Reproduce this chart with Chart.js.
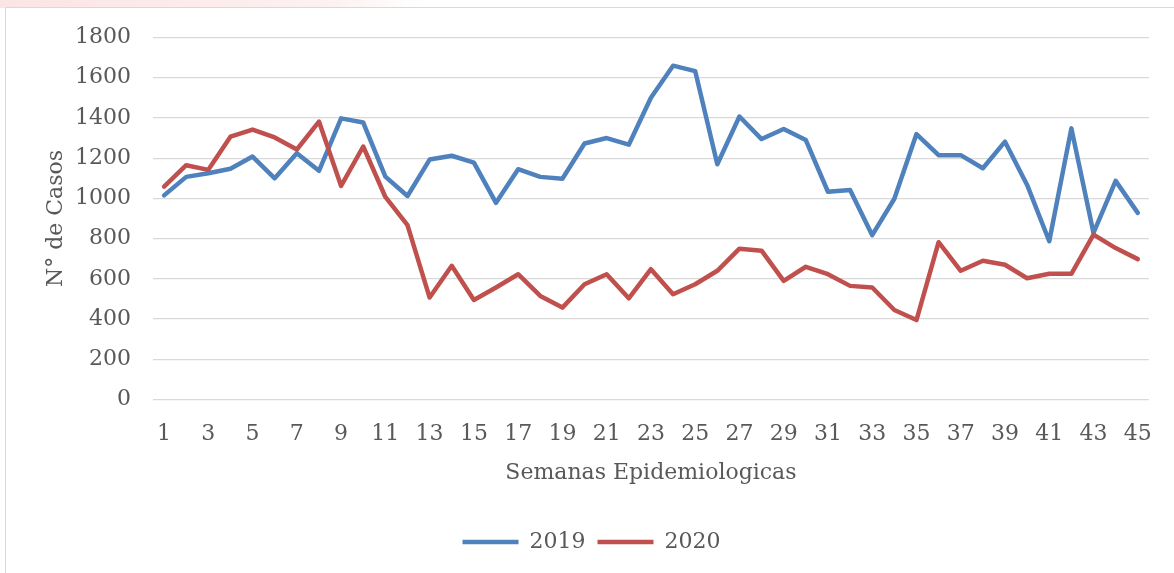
<!DOCTYPE html>
<html>
<head>
<meta charset="utf-8">
<script src="https://cdn.jsdelivr.net/npm/chart.js@4"></script>
<style>
  html, body { margin: 0; padding: 0; background: #fff; }
  body {
    width: 1174px; height: 573px; overflow: hidden; position: relative;
    background: linear-gradient(100deg, #fbe4e4 0, #fdf1f1 28%, #fff 36%) top left / 100% 8px no-repeat, #fff;
  }
  #frame {
    position: absolute; left: 5px; top: 7px; width: 1180px; height: 580px;
    border: 1px solid #d9d9d9; background: #fff;
  }
  #wrap { position: absolute; left: 0; top: 0; width: 1174px; height: 573px; }
</style>
</head>
<body>
<div id="frame"></div>
<div id="wrap"><canvas id="Chart1" width="1174" height="573"></canvas></div>
<script>
// semanas epidemiologicas 1..45
var semanas = [];
for (var i = 1; i <= 45; i++) semanas.push(String(i));

var casos2019 = [
  1015, 1107, 1125, 1147, 1208, 1100, 1225, 1137, 1398, 1377,
  1108, 1012, 1193, 1212, 1178, 978, 1145, 1107, 1098, 1273,
  1300, 1267, 1500, 1660, 1633, 1170, 1407, 1295, 1345, 1290,
  1033, 1042, 817, 998, 1320, 1215, 1215, 1150, 1282, 1067,
  787, 1348, 828, 1087, 928
];

var casos2020 = [
  1058, 1165, 1142, 1307, 1342, 1303, 1243, 1382, 1062, 1258,
  1007, 867, 507, 665, 495, 557, 623, 515, 457, 573,
  623, 503, 648, 523, 573, 640, 750, 740, 590, 660,
  623, 565, 557, 445, 395, 782, 640, 690, 670, 603,
  625, 625, 820, 753, 698
];

var yTicks = [0, 200, 400, 600, 800, 1000, 1200, 1400, 1600, 1800];

var fontFamily = "'DejaVu Serif', 'Liberation Serif', serif";
var textColor = "#595959";

Chart.defaults.font.family = fontFamily;
Chart.defaults.font.size = 22;
Chart.defaults.color = textColor;

var data = {
  labels: semanas,
  datasets: [
    {
      label: "2019",
      data: casos2019,
      borderColor: "#4f81bd",
      backgroundColor: "#4f81bd",
      borderWidth: 4.5,
      borderCapStyle: "round",
      borderJoinStyle: "round",
      pointRadius: 0,
      tension: 0,
      order: 1,
    },
    {
      label: "2020",
      data: casos2020,
      borderColor: "#c0504d",
      backgroundColor: "#c0504d",
      borderWidth: 4.5,
      borderCapStyle: "round",
      borderJoinStyle: "round",
      pointRadius: 0,
      tension: 0,
      order: 0, // vermelho por cima
    },
  ],
};

var options = {
  responsive: false,
  animation: false,
  layout: { padding: { left: 30, right: 21, top: 37.5, bottom: 10 } },
  plugins: {
    tooltip: { enabled: false },
    legend: {
      position: "bottom",
      labels: {
        usePointStyle: true,
        pointStyle: "line",
        pointStyleWidth: 56,
        boxHeight: 10,
        padding: 12,
        color: textColor,
        font: { size: 22 },
        sort: function (a, b) { return a.datasetIndex - b.datasetIndex; },
      },
    },
  },
  scales: {
    x: {
      type: "category",
      offset: true,
      grid: { display: false, drawTicks: false },
      border: { display: false },
      ticks: {
        autoSkip: false,
        maxRotation: 0,
        padding: 22,
        callback: function (v, idx) { return idx % 2 === 0 ? semanas[idx] : ""; },
      },
      title: {
        display: true,
        text: "Semanas Epidemiologicas",
        font: { size: 22 },
        padding: { top: 0, bottom: 33 },
      },
      afterFit: function (s) { s.height = 119.5; },
    },
    y: {
      min: 0,
      max: 1800,
      afterBuildTicks: function (s) {
        s.ticks = yTicks.map(function (v) { return { value: v }; });
      },
      grid: { color: "#d9d9d9", lineWidth: 1.3, drawTicks: false },
      border: { display: false },
      ticks: {
        padding: 22,
        callback: function (v) { return String(v); },
      },
      title: {
        display: true,
        text: "N° de Casos",
        font: { size: 22 },
        padding: { top: 13, bottom: 0 },
      },
      afterFit: function (s) { s.width = 123; },
    },
  },
};

var ctx = document.getElementById("Chart1").getContext("2d");
var myChart = new Chart(ctx, {
  type: "line",
  data: data,
  options: options,
});
</script>
</body>
</html>
